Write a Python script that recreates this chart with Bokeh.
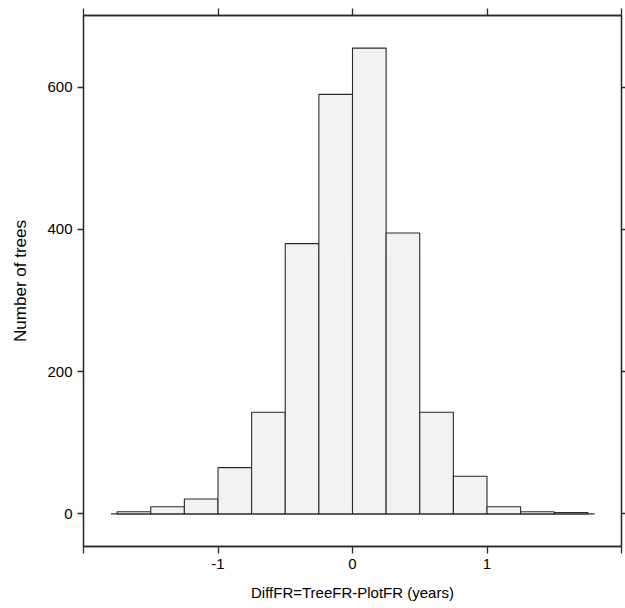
from bokeh.plotting import figure
from bokeh.models import LinearAxis, FixedTicker, Range1d
from bokeh.embed import file_html
from bokeh.resources import INLINE

# Histogram data (bin edges of width 0.25)
bin_left = [-1.75, -1.5, -1.25, -1.0, -0.75, -0.5, -0.25, 0.0, 0.25, 0.5, 0.75, 1.0, 1.25, 1.5]
bin_right = [-1.5, -1.25, -1.0, -0.75, -0.5, -0.25, 0.0, 0.25, 0.5, 0.75, 1.0, 1.25, 1.5, 1.75]
counts = [3, 10, 21, 65, 143, 380, 590, 655, 395, 143, 53, 10, 3, 2]

x_ticks = [-2, -1, 0, 1, 2]
x_tick_labels = {-2: "", -1: "-1", 0: "0", 1: "1", 2: ""}
y_ticks = [0, 200, 400, 600]
x_title = "DiffFR=TreeFR-PlotFR (years)"
y_title = "Number of trees"

FONT = "Liberation Sans"
LINE = "#2b2b2b"

p = figure(width=625, height=608, output_backend="svg", toolbar_location=None,
           x_range=Range1d(-2.0, 2.0), y_range=Range1d(-45.85, 700.85),
           x_axis_location=None, y_axis_location=None,
           min_border_left=83, min_border_right=4, min_border_top=15, min_border_bottom=62)
p.grid.visible = False
p.outline_line_color = LINE
p.outline_line_width = 1.3
p.background_fill_color = "white"
p.border_fill_color = "white"

def style(ax, labels=True, tick=6):
    ax.axis_line_color = LINE
    ax.axis_line_width = 1.3
    ax.major_tick_line_color = LINE
    ax.major_tick_line_width = 1.3
    ax.major_tick_in = 0
    ax.major_tick_out = tick
    ax.minor_tick_line_color = None
    ax.major_label_text_font = FONT
    ax.major_label_text_color = "black"
    ax.axis_label_text_font = FONT
    ax.axis_label_text_font_style = "normal"
    ax.axis_label_text_color = "black"
    if not labels:
        ax.major_label_text_color = None
        ax.major_label_text_font_size = "1px"
        ax.major_label_standoff = 0

xb = LinearAxis(ticker=FixedTicker(ticks=x_ticks), axis_label=x_title)
style(xb, tick=7)
xb.major_label_text_font_size = "15px"
xb.major_label_standoff = 5
xb.axis_label_text_font_size = "15px"
xb.axis_label_standoff = 12
xb.major_label_overrides = x_tick_labels
p.add_layout(xb, "below")

xt = LinearAxis(ticker=FixedTicker(ticks=x_ticks))
style(xt, labels=False, tick=7)
p.add_layout(xt, "above")

yl = LinearAxis(ticker=FixedTicker(ticks=y_ticks), axis_label=y_title)
style(yl, tick=6)
yl.major_label_text_font_size = "15px"
yl.major_label_standoff = 5
yl.axis_label_text_font_size = "17px"
yl.axis_label_standoff = 14
p.add_layout(yl, "left")

yr = LinearAxis(ticker=FixedTicker(ticks=y_ticks))
style(yr, labels=False, tick=4)
p.add_layout(yr, "right")

# baseline under the bars (slightly extended beyond the outer bins)
p.segment(x0=[bin_left[0] - 0.045], y0=[0], x1=[bin_right[-1] + 0.05], y1=[0],
          line_color=LINE, line_width=1.2)

p.quad(left=bin_left, right=bin_right, bottom=0, top=counts,
       fill_color="#f2f2f2", line_color=LINE, line_width=1.1)

open("out.html", "w").write(file_html(p, INLINE))
